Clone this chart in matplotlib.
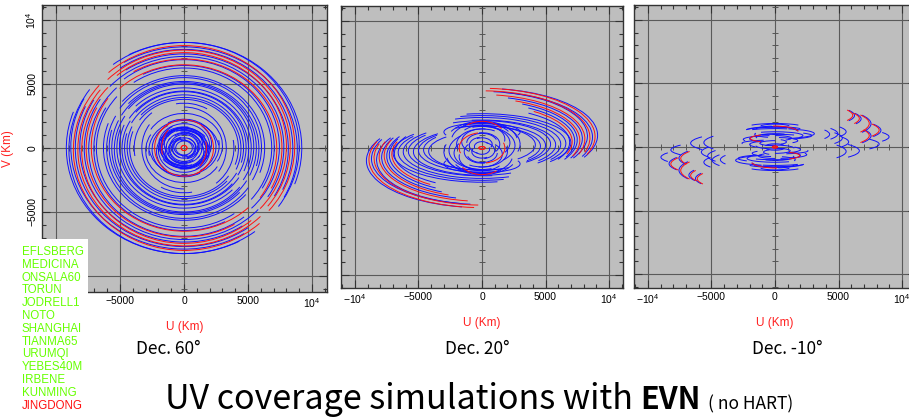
import numpy as np
import matplotlib
matplotlib.use("Agg")
import matplotlib.pyplot as plt
from matplotlib.patches import Arc, Rectangle
from matplotlib.ticker import MultipleLocator, FuncFormatter

plt.rcParams['font.family'] = 'Liberation Sans'
plt.rcParams['mathtext.fontset'] = 'custom'
plt.rcParams['mathtext.rm'] = 'Liberation Sans'
plt.rcParams['mathtext.it'] = 'Liberation Sans'

BLUE = '#1010ff'
RED = '#ff1010'
BG = '#bebebe'
LW = 0.7

stations = ['EFLSBERG', 'MEDICINA', 'ONSALA60', 'TORUN', 'JODRELL1', 'NOTO',
            'SHANGHAI', 'TIANMA65', 'URUMQI', 'YEBES40M', 'IRBENE', 'KUNMING',
            'JINGDONG']
decs = ['Dec. 60°', 'Dec. 20°', 'Dec. -10°']

# uv tracks, one half of each baseline (the conjugate is drawn mirrored)
# v-centre, u half-axis, v half-axis, start / end hour-angle phase (deg), colour
p1_vc = [0, 100, -100, 150, 0, 100, -50, 150, 50, 0, 100, -100, 50, 0,
         0, 50, -50, 0, 100, 0, -100, 50, 0, -50, 0,
         0, 0, 200,
         200, -200, 100, 0, -300, 200, 0, -100, 300, 0, -200, 100, 0, -100, 0,
         -150, 250, 100, -250, 150, -50,
         0, 0]
p1_a = [9200, 9000, 8850, 8650, 8500, 8300, 8150, 8000, 7800, 7650, 7450, 7250, 7050, 6850,
        6300, 6050, 5850, 5650, 5450, 5250, 5050, 4850, 4650, 4450, 4250,
        3300, 3900, 3600,
        3000, 2750, 2500, 2300, 2150, 2000, 1850, 1700, 1550, 1400, 1250, 1100, 950, 800, 650,
        1950, 1800, 1600, 1450, 1150, 900,
        1750, 230]
p1_b = [8250, 8150, 8000, 7850, 7700, 7550, 7400, 7300, 7100, 6950, 6800, 6600, 6400, 6250,
        5650, 5450, 5250, 5100, 4900, 4700, 4550, 4350, 4150, 4000, 3800,
        3200, 3600, 3300,
        2500, 2350, 2150, 2200, 1850, 1700, 1600, 1450, 1300, 1200, 1050, 950, 800, 700, 550,
        1500, 1650, 1350, 1300, 1000, 750,
        2000, 200]
p1_t1 = [-20, -35, -28, -40, -25, -38, -30, -42, -33, -27, -45, -35, -30, -40,
         -20, -28, -15, -25, -32, -18, -22, -30, -16, -24, -20,
         -35, -50, 60,
         -30, 10, -60, -65, 40, -20, 70, -80, 20, -40, 100, -10, 50, -70, 30,
         -100, 120, 5, 160, -45, 80,
         135, 0]
p1_t2 = [118, 128, 122, 133, 126, 136, 124, 131, 138, 121, 129, 134, 117, 125,
         140, 146, 138, 150, 143, 136, 148, 141, 152, 139, 145,
         90, 10, 100,
         150, 190, 120, 145, 230, 170, 250, 100, 200, 150, 280, 180, 230, 110, 210,
         60, 290, 175, 330, 130, 250,
         195, 360]
p1_col = 'bbbrbrbrbrbrbb' + 'bbbbbbbbbbb' + 'bbb' + 'bbbrbbbbbbbbbbb' + 'bbbbbb' + 'rr'

p2_vc = [1000, 900, 850, 800, 950, 700, 750, 600, 650, 550, 500, 450,
         400, 350, 300, 250, 300, 200, 150, 250,
         300, 500, 200, 600, 400, 300, 700, 500, 300, 400, 200, 300, 100,
         1250, 500, 0, 0]
p2_a = [9100, 8900, 8700, 8500, 8300, 8100, 7900, 7700, 7500, 7300, 7100, 6900,
        7000, 6600, 6200, 5800, 5400, 5000, 4600, 4200,
        3000, 2800, 2600, 2400, 2200, 2000, 1800, 1600, 1400, 1200, 1000, 800, 600,
        3000, 2000, 1800, 250]
p2_b = [3700, 3800, 3600, 3700, 3500, 3500, 3300, 3300, 3100, 3000, 2900, 2700,
        2300, 2200, 2100, 1950, 1850, 1700, 1600, 1500,
        1700, 1600, 1500, 1400, 1300, 1200, 1100, 1000, 900, 750, 650, 500, 400,
        700, 1600, 1200, 110]
p2_t1 = [-28, -22, -25, -18, -30, -20, -28, -22, -30, -25, -20, -30,
         -40, -35, -45, -40, -50, -45, -38, -48,
         -20, 10, -50, 30, -35, 60, -10, 80, -40, 20, 100, -30, 40,
         -20, 40, 100, 0]
p2_t2 = [80, 86, 84, 88, 78, 82, 75, 70, 65, 60, 55, 58,
         100, 105, 110, 98, 115, 105, 112, 120,
         120, 150, 90, 170, 110, 200, 140, 230, 100, 180, 250, 120, 200,
         200, 125, 200, 360]
p2_col = 'brbrbrbrbbrb' + 'bbbbbbbb' + 'bbbbbbbbbbbbb' + 'brrr'

p3_vc = [2500, 2480, 2240, 2220, 1850, 1830, 900, 880, 1330, 1310, 800, 230,
         1040, 700, 1200, 400, -350, -300, 1000,
         1100, 1050, 680, 660, 1050, 1300, 1200, 900, 800, 600, 500, 300, 200,
         400, 1000, 100, 600, 1400,
         1500, 700, 1100, 300, -100, 1600, 900,
         0]
p3_a = [6120, 6260, 6640, 6780, 7420, 7560, 7420, 7560, 8200, 8340, 8980, 8200,
        4950, 5300, 5600, 5800, 5600, 6640, 4300,
        1900, 1950, 1950, 2000, 3100, 2300, 2600, 2200, 1500, 2500, 1800, 1200, 2000,
        900, 1600, 700, 3000, 1500,
        2400, 1300, 2800, 2600, 1500, 1200, 2900,
        200]
p3_b = [1100, 1100, 1150, 1150, 1600, 1600, 1300, 1300, 1300, 1300, 1000, 900,
        900, 900, 900, 900, 1000, 1000, 800,
        550, 560, 320, 330, 400, 300, 350, 300, 250, 300, 250, 200, 300,
        200, 250, 150, 400, 250,
        350, 200, 350, 250, 250, 200, 300,
        80]
p3_t1 = [-22, -22, -20, -20, -25, -25, -25, -25, -22, -22, -20, -25,
         -28, -28, -25, -25, -30, -30, -25,
         15, 20, 125, 130, -70, 30, 50, -30, 60, 100, -40, 90, 120,
         -60, 160, 0, 60, 100,
         40, -50, 70, 110, 0, 20, -60,
         0]
p3_t2 = [22, 22, 22, 22, 25, 25, 20, 20, 22, 22, 20, 25,
         28, 28, 25, 25, 30, 30, 25,
         95, 100, 235, 230, 70, 170, 150, 120, 200, 200, 80, 270, 220,
         60, 250, 180, 110, 180,
         140, 90, 130, 190, 120, 160, 40,
         360]
p3_col = 'rbrbrbrbrbbb' + 'bbbbbbb' + 'rbrb' + 'bbbbbbbbbbbbbb' + 'bbbbbbb' + 'r'

panels = [
    (p1_vc, p1_a, p1_b, p1_t1, p1_t2, p1_col),
    (p2_vc, p2_a, p2_b, p2_t1, p2_t2, p2_col),
    (p3_vc, p3_a, p3_b, p3_t1, p3_t2, p3_col),
]
# axes boxes in pixels (left, top, right, bottom) and limits
boxes = [(42, 5, 327, 292), (341, 6, 623, 288), (634, 5, 916, 288)]
xlims = [(-11100, 11170), (-11100, 11100), (-11100, 11100)]
ylims = [(-11250, 11170), (-11030, 11180), (-11100, 11180)]

W, H = 909, 419
fig = plt.figure(figsize=(W / 100, H / 100), dpi=100)


def to_polar(t, a, b):
    # Arc wants the polar angle of the end point, not the ellipse phase
    r = np.radians(t)
    return np.degrees(np.arctan2(b * np.sin(r), a * np.cos(r)))


def fmt(x, pos):
    if x == 0:
        return '0'
    if abs(x) == 10000:
        return r'$-10^4$' if x < 0 else r'$10^4$'
    return str(int(x)).replace('-', '\u2212')


def fmt_first(x, pos):
    # the lowest labels of the first panel sit under the station list
    if x == -10000:
        return ''
    return fmt(x, pos)


axes = []
for k, (vc, a, b, t1, t2, col) in enumerate(panels):
    l, t, r, btm = boxes[k]
    ax = fig.add_axes([l / W, 1 - btm / H, (r - l) / W, (btm - t) / H])
    ax.set_facecolor(BG)
    ax.set_xlim(*xlims[k])
    ax.set_ylim(*ylims[k])
    for layer in ('b', 'r'):
        for i in range(len(a)):
            if col[i] != layer:
                continue
            c = BLUE if layer == 'b' else RED
            for s, off in ((1, 0), (-1, 180)):
                th1 = to_polar(t1[i] + off, a[i], b[i])
                th2 = to_polar(t2[i] + off, a[i], b[i])
                if t2[i] - t1[i] >= 360:
                    th1, th2 = 0, 360
                ax.add_patch(Arc((0, s * vc[i]), 2 * a[i], 2 * b[i],
                                 theta1=th1, theta2=th2, color=c, lw=LW,
                                 zorder=3 if layer == 'r' else 2))
    ax.xaxis.set_major_locator(MultipleLocator(5000))
    ax.yaxis.set_major_locator(MultipleLocator(5000))
    ax.xaxis.set_minor_locator(MultipleLocator(1000))
    ax.yaxis.set_minor_locator(MultipleLocator(1000))
    f = fmt_first if k == 0 else fmt
    ax.xaxis.set_major_formatter(FuncFormatter(f))
    ax.yaxis.set_major_formatter(FuncFormatter(f))
    ax.tick_params(which='both', direction='in', top=True, right=True,
                   color='#333333', width=0.8, labelsize=7.5, pad=3)
    ax.tick_params(which='major', length=6)
    ax.tick_params(which='minor', length=3)
    ax.grid(True, which='major', color='#5a5a5a', lw=0.8, zorder=1)
    ax.set_axisbelow(True)
    for sp in ax.spines.values():
        sp.set_color('#333333')
        sp.set_linewidth(1.0)
    # small ticks along the centre lines
    minor = ax.xaxis.get_minorticklocs()
    ax.plot(minor, np.zeros(len(minor)), ls='none', marker='|', ms=4,
            mew=0.7, color='#555555', zorder=1.5)
    ax.plot(np.zeros(len(minor)), minor, ls='none', marker='_', ms=4,
            mew=0.7, color='#555555', zorder=1.5)
    if k == 0:
        ax.tick_params(axis='y', labelrotation=90)
        for lab in ax.get_yticklabels():
            lab.set_va('center')
        ax.set_ylabel('V (Km)', color='#ff2020', fontsize=8.5, labelpad=7)
    else:
        ax.tick_params(axis='y', labelleft=False)
    ax.set_xlabel('U (Km)', color='#ff2020', fontsize=8.5, labelpad=8)
    axes.append(ax)

# station list box
fig.add_artist(Rectangle((0, 0), 88 / W, 1 - 239 / H, transform=fig.transFigure,
                         facecolor='white', edgecolor='none', zorder=10))
for i, s in enumerate(stations):
    fig.text(22 / W, 1 - (252 + 12.8 * i) / H, s, fontsize=8.3,
             color='#ff1010' if s == 'JINGDONG' else '#66ff00',
             va='center', ha='left', zorder=11)

cjk = ['Noto Sans CJK SC', 'DejaVu Sans']
for x, d in zip([168, 477, 787], decs):
    fig.text(x / W, 1 - 349 / H, d, fontsize=12.5, family=cjk,
             ha='center', va='center')

renderer = fig.canvas.get_renderer()
base_y = 1 - 409 / H
t1 = fig.text(165 / W, base_y, 'UV coverage simulations with ', fontsize=24.5,
              family=cjk, va='baseline')
x1 = t1.get_window_extent(renderer).x1
t2 = fig.text(x1 / W, base_y, 'EVN', fontsize=22, family=cjk,
              fontweight='bold', va='baseline')
x2 = t2.get_window_extent(renderer).x1
fig.text((x2 + 7) / W, base_y, '( no HART)', fontsize=12.5, family=cjk,
         va='baseline')

fig.savefig('out.png', dpi=100, facecolor='white')
